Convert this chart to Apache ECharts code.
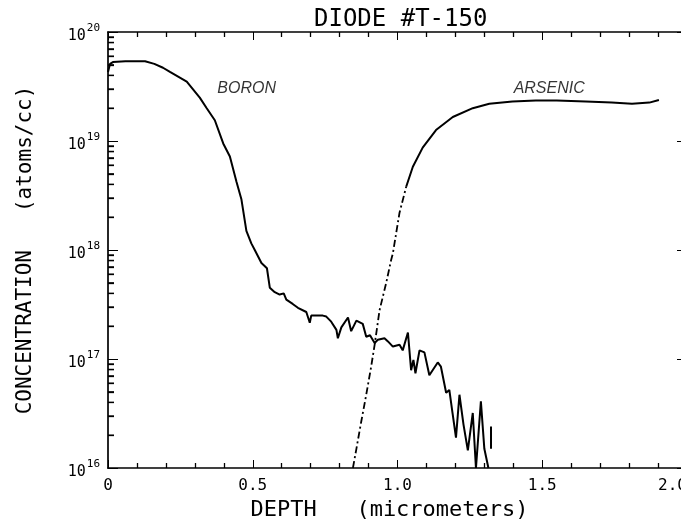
<!DOCTYPE html>
<html>
<head>
<meta charset="utf-8">
<script src="https://cdn.jsdelivr.net/npm/echarts@6/dist/echarts.min.js"></script>
<style>
html,body{margin:0;padding:0;background:#fff;}
#chart{width:681px;height:523px;}
</style>
</head>
<body>
<div id="chart"></div>
<script>
// ---- data (depth in micrometers, concentration in atoms/cc) ----
const boronDepth = [0.000,0.007,0.017,0.060,0.100,0.128,0.160,0.190,0.214,0.272,0.317,0.341,0.369,0.398,0.421,0.444,0.461,0.478,0.495,0.507,0.530,0.549,0.559,0.576,0.593,0.607,0.616,0.638,0.656,0.685,0.697,0.702,0.720,0.742,0.754,0.771,0.789,0.794,0.806,0.829,0.840,0.858,0.880,0.892,0.905,0.921,0.932,0.955,0.967,0.984,1.007,1.018,1.036,1.047,1.055,1.062,1.076,1.093,1.110,1.139,1.150,1.168,1.179,1.190,1.202,1.214,1.228,1.243,1.260,1.271,1.288,1.300,1.314,null,1.323,1.323];
const boronConc  = [4.3e19,5.1e19,5.3e19,5.4e19,5.4e19,5.4e19,5.1e19,4.7e19,4.3e19,3.5e19,2.5e19,2.0e19,1.55e19,9.5e18,7.2e18,4.2e18,2.9e18,1.5e18,1.15e18,1.0e18,7.6e17,6.8e17,4.5e17,4.1e17,3.9e17,4.0e17,3.5e17,3.2e17,2.95e17,2.7e17,2.15e17,2.5e17,2.5e17,2.5e17,2.45e17,2.2e17,1.85e17,1.55e17,1.95e17,2.4e17,1.8e17,2.25e17,2.1e17,1.6e17,1.65e17,1.4e17,1.5e17,1.55e17,1.45e17,1.3e17,1.35e17,1.2e17,1.75e17,7.9e16,9.8e16,7.4e16,1.2e17,1.15e17,7.1e16,9.3e16,8.5e16,4.9e16,5.2e16,3.2e16,1.9e16,4.7e16,2.5e16,1.45e16,3.2e16,1.0e16,4.1e16,1.5e16,1.0e16,null,1.5e16,2.4e16];

const arsenicDepth = [0.846,0.858,0.874,0.892,0.909,0.921,0.938,0.961,0.978,0.984,1.007,1.030,1.053,1.087,1.133,1.191,1.260,1.317,1.397,1.478,1.550,1.650,1.740,1.810,1.870,1.903];
const arsenicConc  = [1.0e16,1.5e16,2.6e16,4.7e16,8.5e16,1.35e17,2.8e17,5.0e17,8.1e17,9.3e17,2.2e18,3.8e18,5.8e18,8.7e18,1.26e19,1.66e19,2.0e19,2.2e19,2.3e19,2.35e19,2.35e19,2.3e19,2.25e19,2.2e19,2.25e19,2.38e19];
const arsenicKneeIndex = 11; // rise drawn broken up to here, plateau solid after

const curveLabels = ['BORON','ARSENIC'];
const curveLabelDepth = [0.479,1.524];
const curveLabelConc = [3.0e19,3.06e19];

const xTicks = [0,0.5,1.0,1.5,2.0];
const xTickLabels = ['0','0.5','1.0','1.5','2.0'];
const yDecades = [16,17,18,19,20];
const minorMultipliers = [2,3,4,5,6,7,8,9];

// ---- build ----
const boronData = boronDepth.map((x, i) => (x === null ? '-' : [x, boronConc[i]]));
const arsenicAll = arsenicDepth.map((x, i) => [x, arsenicConc[i]]);
const arsenicRise = arsenicAll.slice(0, arsenicKneeIndex + 1);
const arsenicPlateau = arsenicAll.slice(arsenicKneeIndex);
const minorTickData = [];
yDecades.slice(0, -1).forEach(d => minorMultipliers.forEach(m => minorTickData.push([0, m * Math.pow(10, d)])));

const FONT = 'DejaVu Sans Mono';
const chart = echarts.init(document.getElementById('chart'));

const axisLineStyle = {color: '#000', width: 1.7};
const yMinor = () => ({show: true, splitNumber: 9, length: 6, lineStyle: {color: '#000', width: 1.3}});
const xMinor = () => ({show: true, splitNumber: 5, length: 5, lineStyle: {color: '#000', width: 1.3}});
const option = {
  backgroundColor: '#fff',
  animation: false,
  title: {
    text: 'DIODE #T-150',
    left: 309, top: 3,
    textStyle: {fontFamily: FONT, fontSize: 24, fontWeight: 'normal', color: '#000'}
  },
  grid: {left: 108, top: 32, width: 579, height: 436, containLabel: false, outerBoundsMode: 'none'},
  xAxis: [
    {
      type: 'value', min: 0, max: 2, interval: 0.5, position: 'bottom',
      name: 'DEPTH   (micrometers)', nameLocation: 'middle', nameGap: 30,
      nameTextStyle: {fontFamily: FONT, fontSize: 22, color: '#000', padding: [0, 16, 0, 0]},
      axisLine: {show: true, onZero: false, lineStyle: axisLineStyle},
      axisTick: {show: true, inside: true, length: 8},
      minorTick: xMinor(),
      splitLine: {show: false},
      axisLabel: {
        margin: 10, fontFamily: FONT, fontSize: 16, color: '#000', alignMaxLabel: 'right',
        formatter: v => { const i = xTicks.indexOf(v); return i >= 0 ? xTickLabels[i] : ''; }
      }
    },
    {
      type: 'value', min: 0, max: 2, interval: 0.5, position: 'top',
      axisLine: {show: true, onZero: false, lineStyle: axisLineStyle},
      axisTick: {show: true, inside: true, length: 8},
      minorTick: xMinor(),
      splitLine: {show: false},
      axisLabel: {show: false}
    }
  ],
  yAxis: [
    {
      type: 'log', logBase: 10, min: 1e16, max: 1e20, interval: 1, position: 'left',
      name: 'CONCENTRATION   (atoms/cc)', nameLocation: 'middle', nameGap: 72, nameRotate: 90,
      nameTextStyle: {fontFamily: FONT, fontSize: 21, color: '#000'},
      axisLine: {show: true, onZero: false, lineStyle: axisLineStyle},
      axisTick: {show: true, inside: true, length: 10},
      minorTick: yMinor(),
      splitLine: {show: false},
      axisLabel: {
        margin: 8, color: '#000',
        formatter: v => '{b|10}{e|' + Math.round(Math.log10(v)) + '}',
        rich: {
          b: {fontFamily: FONT, fontSize: 15, color: '#000', padding: [8, 0, 0, 0]},
          e: {fontFamily: FONT, fontSize: 11, color: '#000', padding: [0, 0, 8, 1]}
        }
      }
    },
    {
      type: 'log', logBase: 10, min: 1e16, max: 1e20, interval: 1, position: 'right',
      axisLine: {show: true, onZero: false, lineStyle: axisLineStyle},
      axisTick: {show: true, inside: true, length: 10},
      minorTick: yMinor(),
      splitLine: {show: false},
      axisLabel: {show: false}
    }
  ],
  series: [
    {
      name: 'BORON', type: 'line', xAxisIndex: 0, yAxisIndex: 0,
      data: boronData, showSymbol: false, connectNulls: false,
      lineStyle: {color: '#000', width: 2}
    },
    {
      name: 'ARSENIC rise', type: 'line', xAxisIndex: 0, yAxisIndex: 0,
      data: arsenicRise, showSymbol: false,
      lineStyle: {color: '#000', width: 1.8, type: [7, 3, 2, 3]}
    },
    {
      name: 'ARSENIC', type: 'line', xAxisIndex: 0, yAxisIndex: 0,
      data: arsenicPlateau, showSymbol: false,
      lineStyle: {color: '#000', width: 2}
    },
    {
      name: 'left minor ticks', type: 'custom', xAxisIndex: 0, yAxisIndex: 0,
      data: minorTickData, clip: false, z: 10,
      renderItem: (params, api) => {
        const p = api.coord([api.value(0), api.value(1)]);
        return {type: 'line', shape: {x1: p[0], y1: p[1], x2: p[0] + 6, y2: p[1]},
                style: {stroke: '#000', lineWidth: 1.3}};
      }
    },
    {
      name: 'labels', type: 'scatter', xAxisIndex: 0, yAxisIndex: 0,
      data: curveLabels.map((n, i) => ({name: n, value: [curveLabelDepth[i], curveLabelConc[i]]})),
      symbolSize: 0, silent: true,
      label: {
        show: true, position: 'inside', formatter: p => p.name,
        fontFamily: 'Liberation Sans', fontStyle: 'italic', fontSize: 16, color: '#000'
      }
    }
  ]
};
chart.setOption(option);
</script>
</body>
</html>
